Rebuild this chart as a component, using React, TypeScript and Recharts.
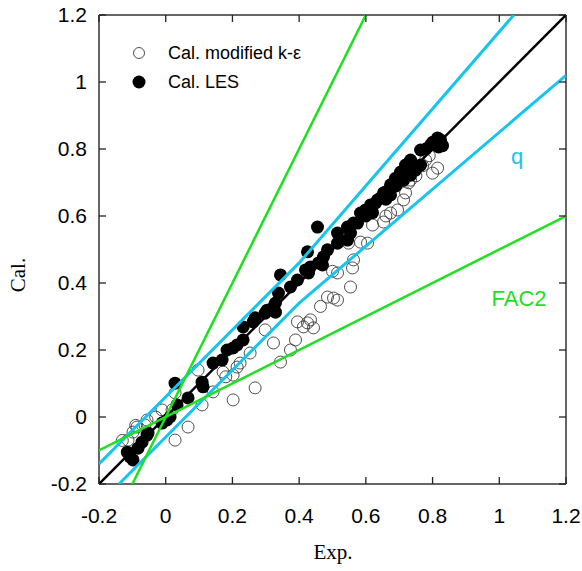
import React from 'react';
import { ScatterChart, Scatter, XAxis, YAxis } from 'recharts';

// Axis ticks
const axisTicks = [-0.2, 0, 0.2, 0.4, 0.6, 0.8, 1, 1.2];

// Cal. modified k-ε (open circles)
const keExp = [-0.13, -0.113, -0.098, -0.09, -0.086, -0.062, -0.056, -0.03, -0.011, 0.019, 0.028, 0.067, 0.028, 0.109, 0.142, 0.097, 0.172, 0.18, 0.202, 0.268, 0.202, 0.214, 0.223, 0.253, 0.298, 0.323, 0.344, 0.374, 0.389, 0.395, 0.413, 0.425, 0.443, 0.434, 0.464, 0.485, 0.503, 0.515, 0.554, 0.5, 0.515, 0.56, 0.563, 0.548, 0.605, 0.584, 0.62, 0.653, 0.674, 0.695, 0.713, 0.719, 0.728, 0.66, 0.75, 0.77, 0.734, 0.779, 0.8, 0.815, 0.79];
const keCal = [-0.07, -0.069, -0.045, -0.025, -0.03, -0.024, -0.009, 0.0, 0.021, 0.021, -0.069, -0.03, 0.072, 0.036, 0.075, 0.14, 0.134, 0.12, 0.051, 0.087, 0.125, 0.149, 0.161, 0.191, 0.26, 0.221, 0.164, 0.2, 0.23, 0.284, 0.269, 0.281, 0.266, 0.29, 0.33, 0.358, 0.355, 0.349, 0.388, 0.435, 0.43, 0.445, 0.469, 0.519, 0.519, 0.522, 0.573, 0.582, 0.609, 0.618, 0.648, 0.669, 0.699, 0.6, 0.72, 0.75, 0.707, 0.767, 0.728, 0.743, 0.78];

// Cal. LES (filled circles)
const lesExp = [-0.115, -0.107, -0.098, -0.083, -0.071, -0.056, -0.053, -0.011, 0.004, 0.013, 0.034, 0.067, 0.028, 0.109, 0.112, 0.142, 0.169, 0.184, 0.202, 0.214, 0.232, 0.232, 0.262, 0.268, 0.298, 0.304, 0.323, 0.329, 0.329, 0.338, 0.374, 0.395, 0.344, 0.419, 0.428, 0.434, 0.425, 0.455, 0.458, 0.47, 0.473, 0.485, 0.515, 0.515, 0.545, 0.545, 0.554, 0.563, 0.575, 0.584, 0.593, 0.599, 0.6, 0.614, 0.614, 0.62, 0.629, 0.635, 0.644, 0.653, 0.659, 0.66, 0.674, 0.674, 0.674, 0.689, 0.69, 0.695, 0.704, 0.704, 0.713, 0.719, 0.72, 0.734, 0.734, 0.749, 0.764, 0.764, 0.78, 0.794, 0.8, 0.815, 0.818, 0.824, 0.83];
const lesCal = [-0.105, -0.119, -0.128, -0.093, -0.075, -0.054, -0.048, -0.018, -0.009, 0.0, 0.036, 0.057, 0.101, 0.104, 0.09, 0.161, 0.17, 0.2, 0.206, 0.215, 0.23, 0.269, 0.284, 0.296, 0.31, 0.319, 0.328, 0.313, 0.34, 0.37, 0.388, 0.409, 0.424, 0.439, 0.43, 0.448, 0.493, 0.567, 0.46, 0.454, 0.478, 0.499, 0.519, 0.549, 0.528, 0.567, 0.549, 0.579, 0.579, 0.609, 0.609, 0.618, 0.6, 0.627, 0.633, 0.61, 0.639, 0.648, 0.654, 0.669, 0.672, 0.65, 0.678, 0.693, 0.663, 0.713, 0.69, 0.699, 0.731, 0.707, 0.707, 0.752, 0.74, 0.767, 0.722, 0.737, 0.752, 0.797, 0.8, 0.812, 0.82, 0.833, 0.806, 0.827, 0.81];

// Reference lines (Exp, Cal)
const oneToOneX = [-0.2, 1.2];
const oneToOneY = [-0.2, 1.2];
const fac2UpperX = [-0.1, 0.6];
const fac2UpperY = [-0.2, 1.2];
const fac2LowerX = [-0.2, 1.2];
const fac2LowerY = [-0.1, 0.6];
const qUpperX = [-0.2, 0.4, 1.0435];
const qUpperY = [-0.14, 0.46, 1.2];
const qLowerX = [-0.14, 0.4, 1.2];
const qLowerY = [-0.2, 0.34, 1.02];

const zip = (xs: number[], ys: number[]) => xs.map((x, i) => ({ x, y: ys[i] }));

const keData = zip(keExp, keCal);
const lesData = zip(lesExp, lesCal);

const CYAN = '#17c4ee';
const GREEN = '#1ee01e';
const AXIS = '#333';
const SANS = '"Liberation Sans", Arial, sans-serif';
const SERIF = '"Liberation Serif", "Times New Roman", serif';
const TICK_LEN = 7;
const BOTTOM_GAP = 24;
const LEFT_GAP = 12;

const OpenDot = (p: any) => (
  <circle cx={p.cx} cy={p.cy} r={6} fill="none" stroke="#3a3a3a" strokeWidth={0.9} />
);
const FilledDot = (p: any) => <circle cx={p.cx} cy={p.cy} r={6.5} fill="#000" />;
const NoDot = () => <g />;

const BottomTick = (p: any) => {
  const axisY = Number(p.y) - BOTTOM_GAP;
  return (
    <g>
      <line x1={p.x} x2={p.x} y1={axisY} y2={axisY - TICK_LEN} stroke="#222" strokeWidth={1.3} />
      <text x={p.x} y={p.y} dy="0.71em" textAnchor="middle" fontFamily={SANS} fontSize={21} fill="#000">
        {String(p.payload.value)}
      </text>
    </g>
  );
};
const LeftTick = (p: any) => {
  const axisX = Number(p.x) + LEFT_GAP;
  return (
    <g>
      <line x1={axisX} x2={axisX + TICK_LEN} y1={p.y} y2={p.y} stroke="#222" strokeWidth={1.3} />
      <text x={p.x} y={p.y} dy="0.355em" textAnchor="end" fontFamily={SANS} fontSize={21} fill="#000">
        {String(p.payload.value)}
      </text>
    </g>
  );
};
const TopTick = (p: any) => (
  <line x1={p.x} x2={p.x} y1={p.y} y2={Number(p.y) + TICK_LEN} stroke="#222" strokeWidth={1.3} />
);
const RightTick = (p: any) => (
  <line x1={p.x} x2={Number(p.x) - TICK_LEN} y1={p.y} y2={p.y} stroke="#222" strokeWidth={1.3} />
);

export default function App() {
  return (
    <div style={{ position: 'absolute', left: 0, top: 0, width: 582, height: 571, background: '#fff' }}>
      <ScatterChart width={582} height={571} margin={{ top: 14, right: 15, bottom: 0, left: 0 }}>
        <XAxis
          dataKey="x"
          type="number"
          domain={[-0.2, 1.2]}
          ticks={axisTicks}
          allowDataOverflow
          height={87}
          tickSize={0}
          tickMargin={BOTTOM_GAP}
          axisLine={{ stroke: AXIS, strokeWidth: 1.5 }}
          tickLine={false}
          tick={BottomTick}
          label={{
            content: () => (
              <text x={333} y={559} textAnchor="middle" fontFamily={SERIF} fontSize={21} fill="#000">
                Exp.
              </text>
            ),
          }}
        />
        <XAxis
          xAxisId="top"
          orientation="top"
          dataKey="x"
          type="number"
          domain={[-0.2, 1.2]}
          ticks={axisTicks}
          allowDataOverflow
          height={1}
          tickSize={0}
          tickMargin={0}
          tick={TopTick}
          axisLine={{ stroke: AXIS, strokeWidth: 1.5 }}
          tickLine={false}
        />
        <YAxis
          dataKey="y"
          type="number"
          domain={[-0.2, 1.2]}
          ticks={axisTicks}
          allowDataOverflow
          width={99}
          tickSize={0}
          tickMargin={LEFT_GAP}
          axisLine={{ stroke: AXIS, strokeWidth: 1.5 }}
          tickLine={false}
          tick={LeftTick}
          label={{
            content: () => (
              <text
                x={18}
                y={275}
                transform="rotate(-90 18 275)"
                textAnchor="middle"
                dominantBaseline="central"
                fontFamily={SERIF}
                fontSize={21}
                fill="#000"
              >
                Cal.
              </text>
            ),
          }}
        />
        <YAxis
          yAxisId="right"
          orientation="right"
          dataKey="y"
          type="number"
          domain={[-0.2, 1.2]}
          ticks={axisTicks}
          allowDataOverflow
          width={1}
          tickSize={0}
          tickMargin={0}
          tick={RightTick}
          axisLine={{ stroke: AXIS, strokeWidth: 1.5 }}
          tickLine={false}
        />
        <Scatter data={keData} shape={OpenDot} isAnimationActive={false} />
        <Scatter data={lesData} shape={FilledDot} isAnimationActive={false} />
        <Scatter data={zip(oneToOneX, oneToOneY)} shape={NoDot} line={{ stroke: '#000', strokeWidth: 2.5 }} isAnimationActive={false} />
        <Scatter data={zip(qUpperX, qUpperY)} shape={NoDot} line={{ stroke: CYAN, strokeWidth: 3 }} isAnimationActive={false} />
        <Scatter data={zip(qLowerX, qLowerY)} shape={NoDot} line={{ stroke: CYAN, strokeWidth: 3 }} isAnimationActive={false} />
        <Scatter data={zip(fac2UpperX, fac2UpperY)} shape={NoDot} line={{ stroke: GREEN, strokeWidth: 2.5 }} isAnimationActive={false} />
        <Scatter data={zip(fac2LowerX, fac2LowerY)} shape={NoDot} line={{ stroke: GREEN, strokeWidth: 2.5 }} isAnimationActive={false} />
        <Scatter
          data={zip(oneToOneX, oneToOneY)}
          xAxisId="top"
          yAxisId="right"
          shape={NoDot}
          legendType="none"
          isAnimationActive={false}
        />
      </ScatterChart>
      <svg width={582} height={571} style={{ position: 'absolute', left: 0, top: 0, pointerEvents: 'none' }}>
        <circle cx={139} cy={53} r={5.5} fill="#fff" stroke="#3a3a3a" strokeWidth={0.9} />
        <text x={168} y={53} dominantBaseline="central" fontFamily={SANS} fontSize={18} fill="#000">
          Cal. modified k-ε
        </text>
        <circle cx={139} cy={82} r={6.5} fill="#000" />
        <text x={168} y={82} dominantBaseline="central" fontFamily={SANS} fontSize={18} fill="#000">
          Cal. LES
        </text>
        <text x={517} y={156} textAnchor="middle" dominantBaseline="central" fontFamily={SANS} fontSize={22} fill={CYAN}>
          q
        </text>
        <text x={519} y={298} textAnchor="middle" dominantBaseline="central" fontFamily={SANS} fontSize={22} fill={GREEN}>
          FAC2
        </text>
      </svg>
    </div>
  );
}
